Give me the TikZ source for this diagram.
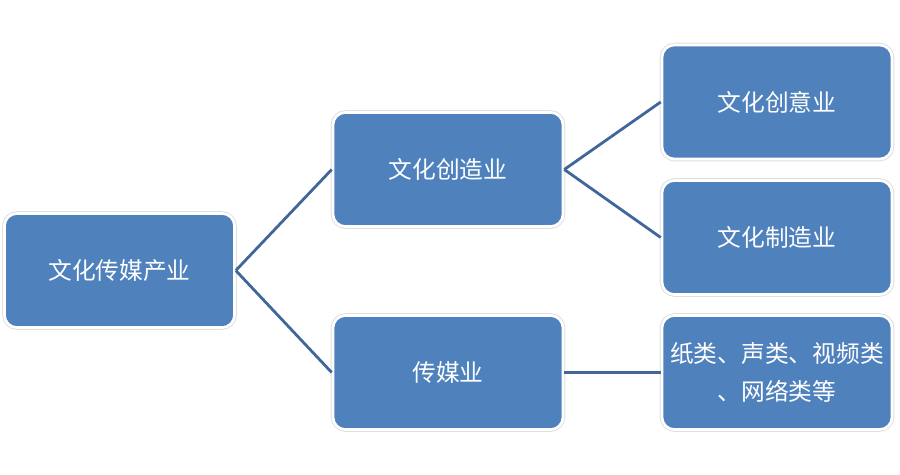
\documentclass[tikz,border=0pt]{standalone}
\usepackage{fontspec}
\newfontfamily\cjk{Noto Sans CJK SC}
\usepackage{tikz}
\definecolor{boxblue}{HTML}{4F81BD}
\definecolor{lineblue}{HTML}{41669A}

\tikzset{
    box/.style={rectangle, rounded corners=7pt, fill=boxblue,
        draw=white, line width=1.5pt,
        preaction={draw=gray!25, line width=2.6pt},
        minimum width=4.6cm, minimum height=2.28cm,
        text=white, align=center,
        font=\cjk\fontsize{13.5}{21.5}\selectfont},
    link/.style={lineblue, line width=1.6pt}
}

\begin{document}
\begin{tikzpicture}[x=0.02cm, y=-0.02cm]
    \useasboundingbox (0,0) rectangle (900,474);

    \coordinate (R) at (119.5,270.5);
    \coordinate (C) at (448,169.5);
    \coordinate (M) at (448,372.5);
    \coordinate (I) at (777,102);
    \coordinate (D) at (777,237.5);
    \coordinate (T) at (777,372.5);

    \node (root) at (R)[box]{文化传媒产业};
    \node (create) at (C)[box]{文化创造业};
    \node (media) at (M)[box]{传媒业};
    \node (idea) at (I)[box]{文化创意业};
    \node (make) at (D)[box]{文化制造业};
    \node (types) at (T)[box]{纸类、声类、视频类\\、网络类等};

    \draw[link] (root.east) -- (create.west);
    \draw[link] (root.east) -- (media.west);
    \draw[link] (create.east) -- (idea.west);
    \draw[link] (create.east) -- (make.west);
    \draw[link] (media.east) -- (types.west);
\end{tikzpicture}
\end{document}
